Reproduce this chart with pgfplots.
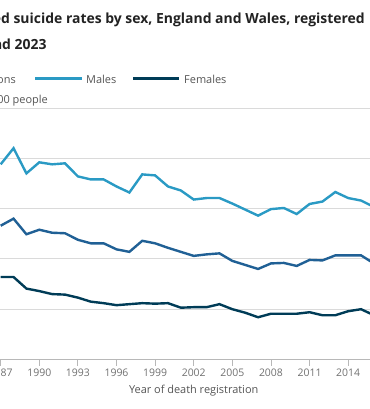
\documentclass[border=0pt]{standalone}
\usepackage{fontspec}
\setmainfont{Open Sans}
\usepackage{pgfplots}
\pgfplotsset{compat=1.18}
\definecolor{males}{HTML}{2A9AC4}
\definecolor{persons}{HTML}{206095}
\definecolor{females}{HTML}{003C57}
\definecolor{txt}{HTML}{222222}
\definecolor{lbl}{HTML}{555555}
\definecolor{tck}{HTML}{707070}
\definecolor{grd}{HTML}{DADADA}
\definecolor{axl}{HTML}{B8B8B8}
\begin{document}
\begin{tikzpicture}
\path[use as bounding box] (0bp,0bp) rectangle (370bp,409bp);
\clip (0bp,0bp) rectangle (370bp,409bp);
\begin{axis}[
  at={(-12.2bp,49.5bp)}, anchor=south west,
  scale only axis, width=399bp, height=251.5bp,
  xmin=1986, xmax=2017, ymin=0, ymax=25,
  axis x line=bottom, axis y line=left,
  y axis line style={draw=none},
  x axis line style={draw=axl, line width=0.8bp, -},
  xtick={1987,1990,...,2017},
  xticklabel style={font=\fontsize{10.5}{12}\selectfont, text=tck},
  /pgf/number format/assume math mode=true,
  /pgf/number format/1000 sep={},
  x tick style={draw=axl, line width=0.8bp},
  tick align=outside, major tick length=6bp,
  ytick={0,5,...,25}, yticklabels={}, y tick style={draw=none},
  ymajorgrids, grid style={draw=grd, line width=0.8bp},
  xlabel={Year of death registration},
  xlabel style={font=\fontsize{11}{13}\selectfont, text=lbl, at={(axis description cs:0.516,0)}, anchor=base, yshift=-34bp},
  clip=true,
]
\addplot[persons, line width=2.4bp] coordinates {
(1987,13.3)(1988,14.0)(1989,12.45)(1990,12.9)(1991,12.6)(1992,12.55)(1993,11.9)(1994,11.55)
(1995,11.55)(1996,10.95)(1997,10.7)(1998,11.8)(1999,11.55)(2000,11.1)(2001,10.7)(2002,10.3)
(2003,10.45)(2004,10.55)(2005,9.8)(2006,9.4)(2007,9.0)(2008,9.55)(2009,9.6)(2010,9.3)
(2011,9.9)(2012,9.85)(2013,10.35)(2014,10.35)(2015,10.35)(2016,9.55)};
\addplot[males, line width=2.4bp] coordinates {
(1987,19.4)(1988,21.0)(1989,18.5)(1990,19.6)(1991,19.4)(1992,19.5)(1993,18.2)(1994,17.9)
(1995,17.9)(1996,17.2)(1997,16.6)(1998,18.4)(1999,18.3)(2000,17.2)(2001,16.8)(2002,15.9)
(2003,16.05)(2004,16.05)(2005,15.5)(2006,14.9)(2007,14.3)(2008,14.95)(2009,15.06)(2010,14.46)
(2011,15.46)(2012,15.7)(2013,16.65)(2014,16.05)(2015,15.8)(2016,15.16)};
\addplot[females, line width=2.4bp] coordinates {
(1987,8.2)(1988,8.2)(1989,7.05)(1990,6.8)(1991,6.5)(1992,6.45)(1993,6.15)(1994,5.75)
(1995,5.6)(1996,5.4)(1997,5.5)(1998,5.6)(1999,5.55)(2000,5.6)(2001,5.15)(2002,5.2)
(2003,5.2)(2004,5.5)(2005,5.0)(2006,4.65)(2007,4.2)(2008,4.55)(2009,4.55)(2010,4.55)
(2011,4.7)(2012,4.4)(2013,4.4)(2014,4.8)(2015,5.0)(2016,4.4)};
\end{axis}
% title
\node[anchor=base east, inner sep=0pt, text=txt, font=\fontsize{14}{17}\selectfont\bfseries] at (365bp,385.7bp) {Age-standardised suicide rates by sex, England and Wales, registered};
\node[anchor=base east, inner sep=0pt, text=txt, font=\fontsize{14}{17}\selectfont\bfseries] at (46.7bp,359bp) {between 1981 and 2023};
% legend
\draw[persons, line width=2.4bp] (-82bp,330.3bp) -- (-35bp,330.3bp);
\node[anchor=base east, inner sep=0pt, text=lbl, font=\fontsize{11}{13}\selectfont] at (16bp,325.7bp) {Persons};
\draw[males, line width=2.4bp] (35bp,330.3bp) -- (81.7bp,330.3bp);
\node[anchor=base west, inner sep=0pt, text=lbl, font=\fontsize{11}{13}\selectfont] at (86bp,325.7bp) {Males};
\draw[females, line width=2.4bp] (133.3bp,330.3bp) -- (179bp,330.3bp);
\node[anchor=base west, inner sep=0pt, text=lbl, font=\fontsize{11}{13}\selectfont] at (184bp,325.7bp) {Females};
% y label
\node[anchor=base east, inner sep=0pt, text=lbl, font=\fontsize{11}{13}\selectfont] at (48bp,305bp) {Age-standardised rate per 100,000 people};
\end{tikzpicture}
\end{document}
